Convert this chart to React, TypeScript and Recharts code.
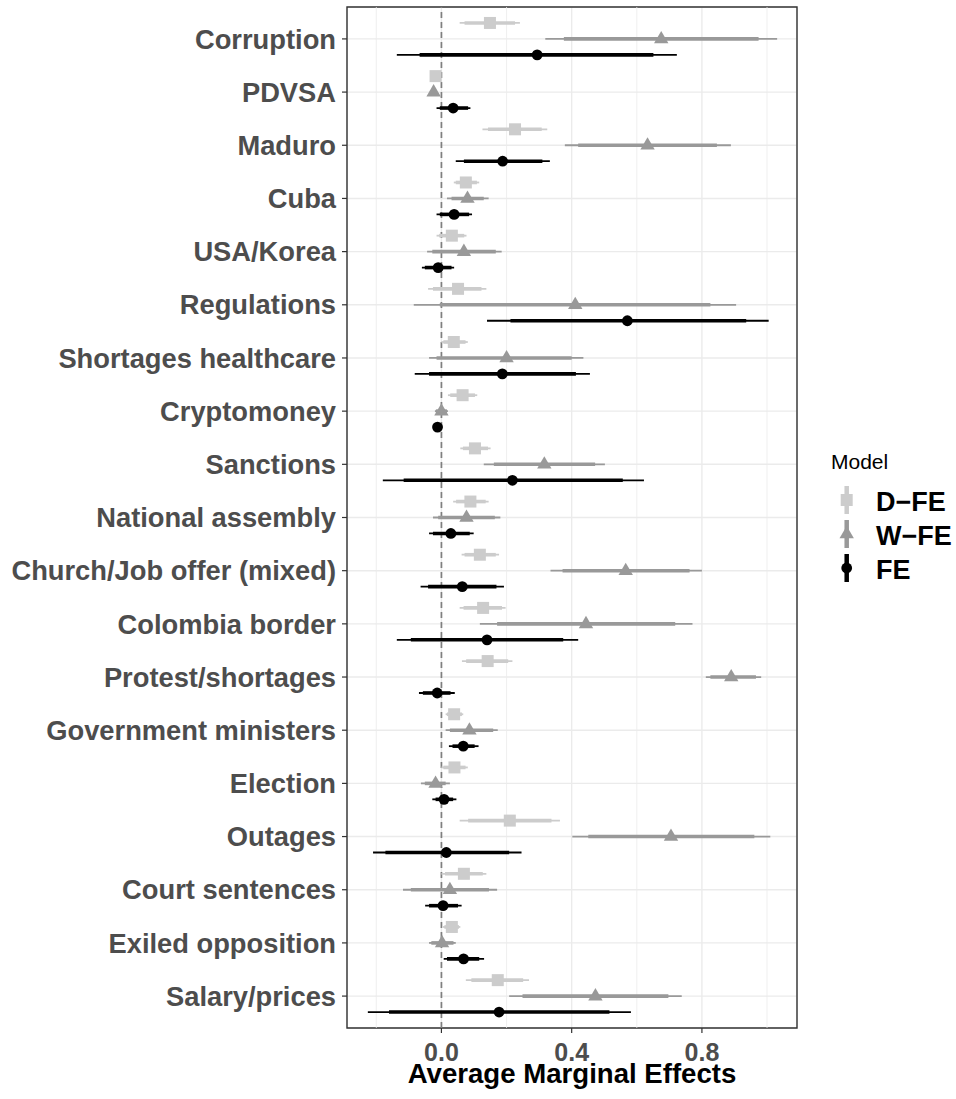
import React from 'react';
import {
  ScatterChart,
  Scatter,
  XAxis,
  YAxis,
  CartesianGrid,
  ErrorBar,
  ReferenceLine,
  ReferenceArea,
} from 'recharts';

const categories = [
  'Corruption',
  'PDVSA',
  'Maduro',
  'Cuba',
  'USA/Korea',
  'Regulations',
  'Shortages healthcare',
  'Cryptomoney',
  'Sanctions',
  'National assembly',
  'Church/Job offer (mixed)',
  'Colombia border',
  'Protest/shortages',
  'Government ministers',
  'Election',
  'Outages',
  'Court sentences',
  'Exiled opposition',
  'Salary/prices',
];

const modelNames = ['D\u2212FE', 'W\u2212FE', 'FE'];
const xTicks = [0, 0.4, 0.8];
const xMinorTicks = [-0.2, 0.2, 0.6, 1.0];

// D-FE
const dfeEst = [0.149, -0.018, 0.226, 0.075, 0.032, 0.051, 0.038, 0.065, 0.103, 0.089, 0.118, 0.128, 0.142, 0.039, 0.04, 0.21, 0.069, 0.032, 0.173];
const dfeLo95 = [0.056, -0.026, 0.126, 0.038, -0.015, -0.041, 0.0, 0.02, 0.058, 0.036, 0.062, 0.056, 0.063, 0.013, 0.0, 0.056, 0.0, 0.005, 0.075];
const dfeHi95 = [0.241, -0.01, 0.325, 0.116, 0.077, 0.138, 0.081, 0.11, 0.151, 0.145, 0.177, 0.197, 0.218, 0.067, 0.081, 0.364, 0.138, 0.058, 0.269];
const dfeLo90 = [0.071, -0.024, 0.143, 0.044, -0.007, -0.026, 0.006, 0.027, 0.066, 0.045, 0.071, 0.068, 0.076, 0.017, 0.006, 0.082, 0.011, 0.009, 0.092];
const dfeHi90 = [0.226, -0.012, 0.308, 0.109, 0.07, 0.123, 0.074, 0.103, 0.143, 0.136, 0.167, 0.186, 0.205, 0.063, 0.074, 0.338, 0.127, 0.054, 0.251];

// W-FE
const wfeEst = [0.675, -0.024, 0.633, 0.08, 0.069, 0.411, 0.2, 0.0, 0.316, 0.077, 0.566, 0.444, 0.89, 0.086, -0.018, 0.705, 0.026, 0.002, 0.473];
const wfeLo95 = [0.319, -0.03, 0.379, 0.017, -0.044, -0.085, -0.038, -0.02, 0.13, -0.026, 0.335, 0.118, 0.812, 0.013, -0.063, 0.402, -0.118, -0.038, 0.208];
const wfeHi95 = [1.031, -0.018, 0.889, 0.145, 0.185, 0.905, 0.436, 0.02, 0.502, 0.181, 0.8, 0.771, 0.982, 0.173, 0.026, 1.01, 0.171, 0.044, 0.738];
const wfeLo90 = [0.376, -0.029, 0.42, 0.031, -0.028, -0.005, -0.015, -0.017, 0.161, -0.01, 0.372, 0.171, 0.826, 0.026, -0.051, 0.451, -0.094, -0.031, 0.249];
const wfeHi90 = [0.974, -0.019, 0.846, 0.13, 0.167, 0.826, 0.4, 0.017, 0.472, 0.164, 0.762, 0.718, 0.966, 0.159, 0.013, 0.961, 0.146, 0.037, 0.697];

// FE
const feEst = [0.294, 0.036, 0.188, 0.039, -0.01, 0.571, 0.187, -0.012, 0.218, 0.029, 0.064, 0.14, -0.013, 0.067, 0.008, 0.015, 0.005, 0.068, 0.177];
const feLo95 = [-0.137, -0.015, 0.044, -0.015, -0.06, 0.14, -0.082, -0.016, -0.18, -0.038, -0.064, -0.137, -0.069, 0.023, -0.028, -0.21, -0.05, 0.007, -0.226];
const feHi95 = [0.723, 0.089, 0.333, 0.094, 0.039, 1.005, 0.456, -0.008, 0.622, 0.099, 0.192, 0.42, 0.041, 0.114, 0.046, 0.246, 0.062, 0.131, 0.582];
const feLo90 = [-0.067, -0.005, 0.069, -0.005, -0.051, 0.212, -0.038, -0.015, -0.116, -0.026, -0.041, -0.094, -0.057, 0.034, -0.018, -0.172, -0.038, 0.017, -0.161];
const feHi90 = [0.651, 0.082, 0.31, 0.085, 0.031, 0.936, 0.413, -0.009, 0.557, 0.087, 0.169, 0.374, 0.028, 0.102, 0.036, 0.208, 0.051, 0.116, 0.516];

const DODGE = [-0.3, 0, 0.3];
const COLORS = ['#cccccc', '#999999', '#000000'];
const FONT = '"Liberation Sans", Arial, Helvetica, sans-serif';

function buildRows(est: number[], lo95: number[], hi95: number[], lo90: number[], hi90: number[], k: number) {
  return categories.map((name, i) => ({
    name,
    y: i + DODGE[k],
    x: est[i],
    e95: [est[i] - lo95[i], hi95[i] - est[i]],
    e90: [est[i] - lo90[i], hi90[i] - est[i]],
  }));
}

const dfeRows = buildRows(dfeEst, dfeLo95, dfeHi95, dfeLo90, dfeHi90, 0);
const wfeRows = buildRows(wfeEst, wfeLo95, wfeHi95, wfeLo90, wfeHi90, 1);
const feRows = buildRows(feEst, feLo95, feHi95, feLo90, feHi90, 2);

const SquareShape = (p: any) => (
  <rect x={p.cx - 6} y={p.cy - 6} width={12} height={12} fill={COLORS[0]} />
);
const TriangleShape = (p: any) => (
  <polygon
    points={`${p.cx},${p.cy - 8} ${p.cx - 7.2},${p.cy + 4.3} ${p.cx + 7.2},${p.cy + 4.3}`}
    fill={COLORS[1]}
  />
);
const CircleShape = (p: any) => <circle cx={p.cx} cy={p.cy} r={5.4} fill={COLORS[2]} />;

const shapes = [SquareShape, TriangleShape, CircleShape];

function LegendKeyShape({ k, cx, cy }: { k: number; cx: number; cy: number }) {
  if (k === 0) return <rect x={cx - 6} y={cy - 6} width={12} height={12} fill={COLORS[0]} />;
  if (k === 1)
    return (
      <polygon
        points={`${cx},${cy - 8} ${cx - 7.2},${cy + 4.3} ${cx + 7.2},${cy + 4.3}`}
        fill={COLORS[1]}
      />
    );
  return <circle cx={cx} cy={cy} r={5.4} fill={COLORS[2]} />;
}

function ModelLegend() {
  const keyX = 846.7;
  const rowY = [500, 534, 568];
  return (
    <svg width={956} height={1099} style={{ position: 'absolute', left: 0, top: 0, pointerEvents: 'none' }}>
      <text x={831} y={469} fontSize={21} fill="#000" fontFamily={FONT}>
        Model
      </text>
      {modelNames.map((m, k) => (
        <g key={m}>
          <line x1={keyX} x2={keyX} y1={rowY[k] - 14} y2={rowY[k] + 14} stroke={COLORS[k]} strokeWidth={4.5} />
          <LegendKeyShape k={k} cx={keyX} cy={rowY[k]} />
          <text x={876} y={rowY[k] + 10.5} fontSize={27} fontWeight="bold" fill="#000" fontFamily={FONT}>
            {m}
          </text>
        </g>
      ))}
    </svg>
  );
}

export default function App() {
  const seriesRows = [dfeRows, wfeRows, feRows];
  return (
    <div style={{ position: 'absolute', left: 0, top: 0, width: 956, height: 1099, fontFamily: FONT, background: '#fff' }}>
      <ScatterChart
        width={956}
        height={1099}
        margin={{ top: 7, right: 159, bottom: 0, left: 0 }}
        style={{ fontFamily: FONT }}
      >
        <CartesianGrid stroke="#ebebeb" strokeWidth={1.4} />
        {xMinorTicks.map((t) => (
          <ReferenceLine key={`minor-${t}`} x={t} stroke="#ebebeb" strokeWidth={0.8} />
        ))}
        <XAxis
          type="number"
          dataKey="x"
          domain={[-0.29, 1.092]}
          allowDataOverflow
          ticks={xTicks}
          tickFormatter={(v: number) => v.toFixed(1)}
          axisLine={false}
          tickLine={{ stroke: '#333333', strokeWidth: 1.2 }}
          tickSize={5}
          tickMargin={10}
          height={71}
          tick={{ fill: '#4d4d4d', fontSize: 25, fontWeight: 'bold', fontFamily: FONT }}
          label={{
            value: 'Average Marginal Effects',
            position: 'insideBottom',
            offset: 16,
            fill: '#000000',
            fontSize: 27.6,
            fontWeight: 'bold',
            fontFamily: FONT,
          }}
        />
        <YAxis
          type="number"
          dataKey="y"
          domain={[-0.6, 18.6]}
          allowDataOverflow
          reversed
          ticks={categories.map((_, i) => i)}
          interval={0}
          tickFormatter={(v: number) => categories[Math.round(v)] ?? ''}
          axisLine={false}
          tickLine={{ stroke: '#333333', strokeWidth: 1.2 }}
          tickSize={5}
          tickMargin={6}
          width={347}
          tick={{ fill: '#4d4d4d', fontSize: 27.3, fontWeight: 'bold', fontFamily: FONT }}
        />
        <ReferenceLine x={0} stroke="#7f7f7f" strokeWidth={1.7} strokeDasharray="6 4" />
        <ReferenceArea
          x1={-0.29}
          x2={1.092}
          y1={-0.6}
          y2={18.6}
          fill="none"
          fillOpacity={0}
          stroke="#333333"
          strokeWidth={1.4}
        />
        {seriesRows.map((rows, k) => (
          <Scatter
            key={modelNames[k]}
            name={modelNames[k]}
            data={rows}
            fill={COLORS[k]}
            shape={shapes[k]}
            isAnimationActive={false}
          >
            <ErrorBar dataKey="e95" direction="x" width={0} stroke={COLORS[k]} strokeWidth={1.8} isAnimationActive={false} />
            <ErrorBar dataKey="e90" direction="x" width={0} stroke={COLORS[k]} strokeWidth={3.6} isAnimationActive={false} />
          </Scatter>
        ))}
      </ScatterChart>
      <ModelLegend />
    </div>
  );
}
